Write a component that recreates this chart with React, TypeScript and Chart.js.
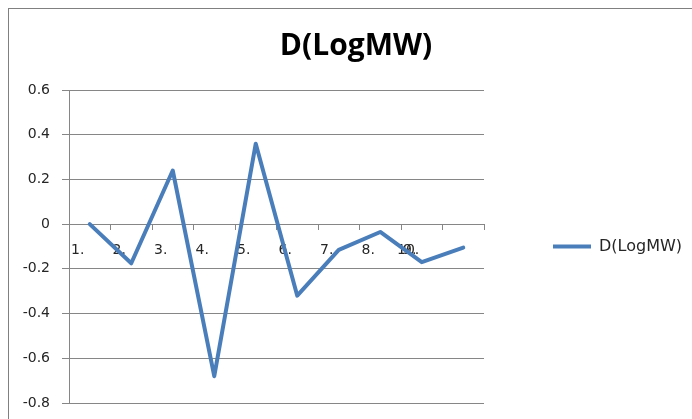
import React, { useEffect, useRef } from "react";
import { Chart, registerables } from "chart.js";

Chart.register(...registerables);

// ---- data ----
const categories = ["1.", "2.", "3.", "4.", "5.", "6.", "7.", "8.", "9.", "10."];
const seriesName = "D(LogMW)";
const values = [0, -0.175, 0.24, -0.68, 0.36, -0.32, -0.115, -0.035, -0.17, -0.105];
const yTicks = [0.6, 0.4, 0.2, 0, -0.2, -0.4, -0.6, -0.8];
const chartTitle = "D(LogMW)";

const GRID = "#868686";
const TEXT = "#262626";
const LINE = "#4a7ebb";
const TICK_FONT = "DejaVu Sans";
const TITLE_CENTER_X = 356;

// draws the category labels just under the zero line (Excel style, left aligned in each category)
const categoryLabels = {
  id: "categoryLabels",
  beforeDatasetsDraw(chart: any) {
    const xs = chart.scales.x;
    const ys = chart.scales.y;
    const ctx = chart.ctx;
    const step = xs.getPixelForValue(1) - xs.getPixelForValue(0);
    const y = ys.getPixelForValue(0) + 26;
    ctx.save();
    ctx.font = `14px "${TICK_FONT}"`;
    ctx.fillStyle = TEXT;
    ctx.textAlign = "left";
    ctx.textBaseline = "middle";
    categories.forEach((lab, i) => {
      let left = xs.getPixelForValue(i) - step / 2 + 2;
      // the last label is pushed back over the previous one, as in the reference
      if (i === categories.length - 1) left = xs.getPixelForValue(i - 1) - step / 2 - 4;
      ctx.fillText(lab, left, y);
    });
    ctx.restore();
  },
};

// centres the title where the reference does, and lets the legend box reach the right edge
const boxPlacement = {
  id: "boxPlacement",
  afterLayout(chart: any) {
    const t = chart.titleBlock;
    if (t) {
      const half = (t.right - t.left) / 2;
      t.left = TITLE_CENTER_X - half;
      t.right = TITLE_CENTER_X + half;
    }
    const lg = chart.legend;
    if (lg) {
      lg.right = chart.width;
      lg.width = lg.right - lg.left;
    }
  },
};

export default function App() {
  const ref = useRef<HTMLCanvasElement | null>(null);

  useEffect(() => {
    document.body.style.margin = "0";
    if (!ref.current) return;
    const chart = new Chart(ref.current, {
      type: "line",
      data: {
        labels: categories,
        datasets: [
          {
            label: seriesName,
            data: values,
            borderColor: LINE,
            backgroundColor: LINE,
            borderWidth: 4,
            pointRadius: 0,
            pointHoverRadius: 0,
            tension: 0,
            borderJoinStyle: "round",
            borderCapStyle: "round",
            fill: false,
          },
        ],
      },
      options: {
        animation: false,
        responsive: false,
        events: [],
        layout: { padding: { left: 8, right: 49.33, top: 0, bottom: 16 } },
        plugins: {
          title: {
            display: true,
            text: chartTitle,
            color: "#000",
            font: { family: "Open Sans", size: 30, weight: "bold", lineHeight: 1.2 },
            padding: { top: 28, bottom: 26 },
          },
          legend: {
            display: true,
            position: "right",
            fullSize: false,
            labels: {
              usePointStyle: true,
              pointStyle: "line",
              pointStyleWidth: 38,
              boxHeight: 16,
              padding: 69,
              color: TEXT,
              font: { family: TICK_FONT, size: 16 },
            },
          },
          tooltip: { enabled: false },
        },
        scales: {
          x: {
            type: "category",
            position: { y: 0 } as any,
            offset: true,
            grid: {
              offset: true,
              drawOnChartArea: false,
              drawTicks: true,
              tickLength: 5,
              color: GRID,
              lineWidth: 1,
            },
            border: { display: true, color: GRID, width: 1 },
            ticks: { display: false },
          },
          y: {
            min: -0.8,
            max: 0.6,
            afterFit: (scale: any) => {
              scale.width = 61;
              scale.paddingTop = 0;
              scale.paddingBottom = 0;
            },
            afterBuildTicks: (scale: any) => {
              scale.ticks = yTicks.map((v) => ({ value: v }));
            },
            grid: {
              color: GRID,
              lineWidth: 1,
              drawTicks: true,
              tickLength: 7,
            },
            border: { display: true, color: GRID, width: 1 },
            ticks: {
              padding: 12,
              color: TEXT,
              font: { family: TICK_FONT, size: 14 },
              callback: (v: any) => {
                const r = Math.round(Number(v) * 10) / 10;
                return r === 0 ? "0" : String(r);
              },
            },
          },
        },
      },
      plugins: [categoryLabels, boxPlacement],
    });
    return () => chart.destroy();
  }, []);

  return (
    <div style={{ position: "relative", width: 692, height: 419, background: "#fff", overflow: "hidden" }}>
      <canvas ref={ref} width={692} height={419} style={{ display: "block", width: 692, height: 419 }} />
      <div
        style={{
          position: "absolute",
          left: 8,
          top: 8,
          width: 700,
          height: 420,
          borderTop: "1px solid #808080",
          borderLeft: "1px solid #808080",
          pointerEvents: "none",
        }}
      />
    </div>
  );
}
